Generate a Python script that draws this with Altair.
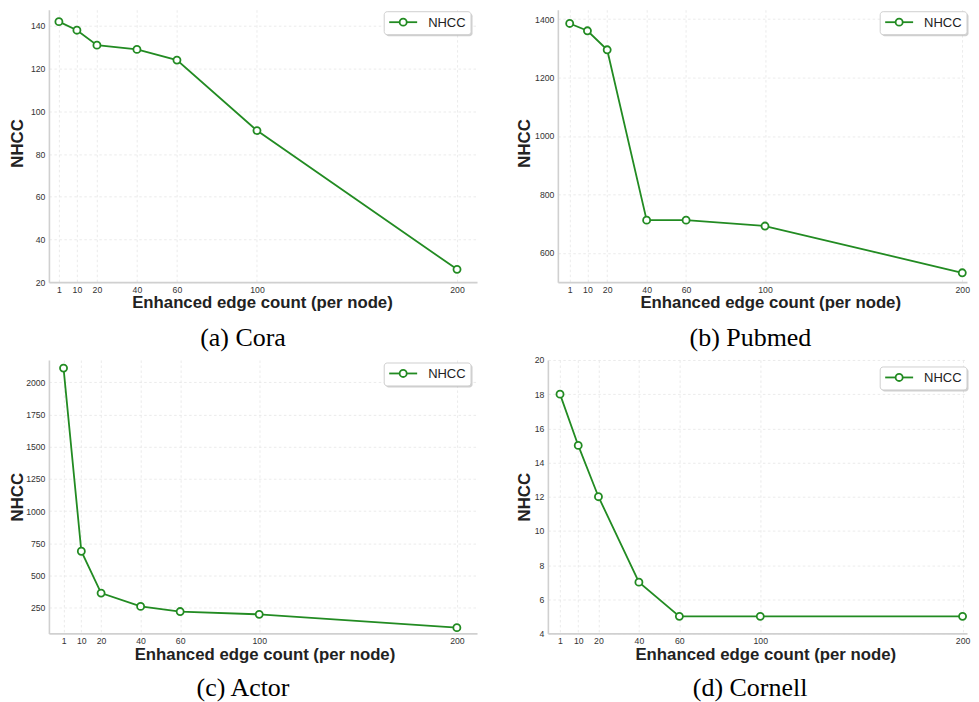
import altair as alt
import pandas as pd

# ---- data ----
edges = [1, 10, 20, 40, 60, 100, 200]
x_ticks = [1, 10, 20, 40, 60, 100, 200]
cora = [142, 138, 131, 129, 124, 91, 26]
pubmed = [1385, 1360, 1295, 712, 712, 692, 532]
actor = [2110, 688, 363, 260, 220, 198, 95]
cornell = [18, 15, 12, 7, 5, 5, 5]
series_name = "NHCC"

y_ticks_cora = [20, 40, 60, 80, 100, 120, 140]
y_ticks_pubmed = [600, 800, 1000, 1200, 1400]
y_ticks_actor = [250, 500, 750, 1000, 1250, 1500, 1750, 2000]
y_ticks_cornell = [4, 6, 8, 10, 12, 14, 16, 18, 20]

captions = ["(a) Cora", "(b) Pubmed", "(c) Actor", "(d) Cornell"]

GREEN = "#228B22"


def legend_layers(bx, by):
    """Matplotlib-style legend box (line + open circle + label) with shadow."""
    one = pd.DataFrame({"label": [series_name]})
    shadow = alt.Chart(one).mark_rect(color="#b0b0b0", opacity=0.6,
                                      cornerRadius=3).encode(
        x=alt.value(bx + 1.5), x2=alt.value(bx + 88.5),
        y=alt.value(by + 1.5), y2=alt.value(by + 24.5))
    box = alt.Chart(one).mark_rect(fill="white", stroke="#cfcfcf",
                                   strokeWidth=1, cornerRadius=3).encode(
        x=alt.value(bx), x2=alt.value(bx + 87),
        y=alt.value(by), y2=alt.value(by + 23))
    seg = alt.Chart(one).mark_rule(color=GREEN, strokeWidth=1.8).encode(
        x=alt.value(bx + 5), x2=alt.value(bx + 33), y=alt.value(by + 10.5))
    dot = alt.Chart(one).mark_point(shape="circle", filled=True, fill="white",
                                    stroke=GREEN, strokeWidth=1.8, size=50,
                                    opacity=1).encode(
        x=alt.value(bx + 19), y=alt.value(by + 10.5))
    txt = alt.Chart(one).mark_text(align="left", baseline="middle",
                                   font="Liberation Sans", fontSize=13,
                                   color="#222222").encode(
        x=alt.value(bx + 44), y=alt.value(by + 11.2), text="label:N")
    return [shadow, box, seg, dot, txt]


def panel(vals, yticks, xdom, ydom, w, h, caption, title_x, title_y,
          xtitle_x, xtitle_y, bx, by, cap_offset, cap_dx, anchor=False):
    df = pd.DataFrame({"x": edges, "y": vals})
    yaxis_kw = dict(values=yticks, format="d", title="NHCC",
                    titleX=title_x, titleBaseline="middle", titleAlign="center")
    if title_y is not None:
        yaxis_kw["titleY"] = title_y
    base = alt.Chart(df).encode(
        x=alt.X("x:Q",
                scale=alt.Scale(domain=xdom, nice=False, zero=False),
                axis=alt.Axis(values=x_ticks, format="d",
                              title="Enhanced edge count (per node)",
                              titleX=xtitle_x, titleAlign="center",
                              titleY=xtitle_y, titleBaseline="alphabetic",
                              labelPadding=3)),
        y=alt.Y("y:Q",
                scale=alt.Scale(domain=ydom, nice=False, zero=False),
                axis=alt.Axis(labelPadding=4, **yaxis_kw)),
    )
    line = base.mark_line(color=GREEN, strokeWidth=1.8)
    pts = base.mark_point(shape="circle", filled=True, fill="white",
                          stroke=GREEN, strokeWidth=1.8, size=50, opacity=1)
    layers = [line, pts] + legend_layers(bx, by)
    if anchor:
        layers.append(alt.Chart(pd.DataFrame({"k": [0]})).mark_rect(
            color="white").encode(x=alt.value(-40), x2=alt.value(-39),
                                  y=alt.value(100), y2=alt.value(101)))
    return alt.layer(*layers).properties(
        width=w, height=h,
        title=alt.TitleParams(caption, orient="bottom", frame="bounds",
                              anchor="middle", font="Liberation Serif",
                              fontSize=26, fontWeight="normal",
                              color="black", offset=cap_offset, dx=cap_dx))


a = panel(cora, y_ticks_cora, [-4, 210], [20, 147.6], 429, 273, captions[0],
          -31, 133.5, 213.5, 25.5, 336, 2, 14, 0, anchor=True)
b = panel(pubmed, y_ticks_pubmed, [-5, 202.4], [500, 1432], 410, 273, captions[1],
          -33.5, 133.5, 212.8, 25.5, 323, 2, 14, 7.5)
c = panel(actor, y_ticks_actor, [-6.4, 210.2], [50, 2173], 429, 274, captions[2],
          -31, None, 216, 26, 336, 3, 12, 0, anchor=True)
d = panel(cornell, y_ticks_cornell, [-5, 202.2], [4, 20], 420, 274, captions[3],
          -23.5, None, 217.8, 26, 333, 7, 12, 7)

row1 = alt.hconcat(a, b, spacing=81, bounds="flush")
row2 = alt.hconcat(c, d, spacing=71, bounds="flush")

chart = alt.vconcat(row1, row2, spacing=3,
                    padding={"left": 0, "top": 0, "right": 0, "bottom": 0}
).configure_view(stroke="transparent").configure_axis(
    labelFont="Liberation Sans", labelFontSize=8.7, labelColor="#333333",
    titleFont="Liberation Sans", titleFontSize=16.8, titleFontWeight="bold",
    titleColor="#222222", ticks=False, tickSize=0,
    domainColor="#d0d0d0", domainWidth=1.6,
    gridColor="#e6e6e6", gridWidth=0.8, gridDash=[2.5, 2.5]
)

chart.save("out.html", embed_options={"renderer": "svg", "actions": False})
